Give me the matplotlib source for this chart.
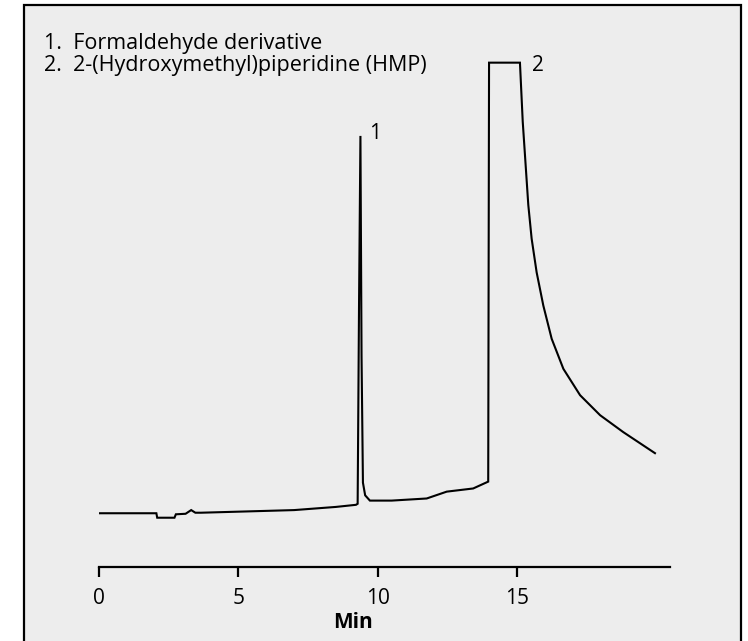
import matplotlib
matplotlib.use("Agg")
import matplotlib.pyplot as plt
from matplotlib.patches import Rectangle

# Chromatogram trace (time in min, relative detector response)
time_min = [0.0, 2.05, 2.08, 2.70, 2.75, 3.10, 3.30, 3.45, 3.65, 5.0, 7.0, 8.5, 9.22,
            9.28, 9.33, 9.38, 9.42, 9.47, 9.55, 9.72, 10.5, 11.76, 12.48, 13.43, 13.97,
            14.0, 15.11, 15.21, 15.29, 15.41, 15.53, 15.71, 15.95, 16.25, 16.67, 17.27,
            17.99, 18.82, 19.96]
response = [10.2, 10.2, 9.35, 9.35, 10.0, 10.1, 10.8, 10.3, 10.3, 10.5, 10.8, 11.4, 11.8,
            12.0, 50.0, 81.8, 40.0, 16.0, 13.6, 12.6, 12.6, 13.0, 14.3, 14.9, 16.2,
            95.7, 95.7, 84.5, 78.2, 68.7, 62.3, 55.9, 49.6, 43.3, 37.6, 32.6,
            28.8, 25.6, 21.6]

peak_labels = ["1", "2"]
peak_label_pos = [(9.9, 82.2), (15.76, 95.1)]
legend_lines = ["1.  Formaldehyde derivative", "2.  2-(Hydroxymethyl)piperidine (HMP)"]
x_ticks = [0, 5, 10, 15]
x_label = "Min"

FONT = "Open Sans"
BG = "#ededed"
FS = 15

fig = plt.figure(figsize=(7.48, 6.41), dpi=100, facecolor="white")
# gray panel with black frame (bottom edge runs off the image)
fig.patches.append(Rectangle((24/748, -0.05), (741-24)/748, (641-5)/641 + 0.05,
                             transform=fig.transFigure, facecolor=BG,
                             edgecolor="black", linewidth=1.6, zorder=-10))

ax = fig.add_axes([99.3/748, 74/641, 570.7/748, 527/641])
ax.set_zorder(5)
ax.set_facecolor("none")
ax.plot(time_min, response, color="black", linewidth=1.5, solid_joinstyle="miter")
ax.set_xlim(0, 20.5)
ax.set_ylim(0, 100)
for s in ["left", "right", "top"]:
    ax.spines[s].set_visible(False)
ax.spines["bottom"].set_linewidth(1.6)
ax.set_yticks([])
ax.set_xticks(x_ticks)
ax.set_xticklabels([str(t) for t in x_ticks], fontfamily=FONT, fontsize=FS)
ax.tick_params(axis="x", length=7, width=1.6, pad=8)
ax.text(9.1, -0.106, x_label, transform=ax.get_xaxis_transform(), ha="center", va="center",
        fontfamily=FONT, fontsize=FS, fontweight="bold")

for lab, (px, py) in zip(peak_labels, peak_label_pos):
    ax.text(px, py, lab, ha="center", va="center", fontfamily=FONT, fontsize=FS)

for i, line in enumerate(legend_lines):
    fig.text(44/748, 1 - (44 + 22*i)/641, line, ha="left", va="center",
             fontfamily=FONT, fontsize=15.5)

fig.savefig("out.png", dpi=100, facecolor="white")
